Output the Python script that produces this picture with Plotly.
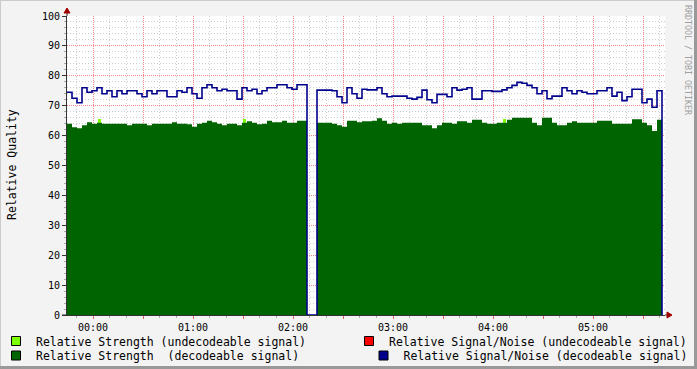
import plotly.graph_objects as go
import pandas as pd

# ---------------- data ----------------
START = pd.Timestamp("2024-01-01 23:44:24")
STEP = pd.Timedelta(minutes=3)
DAY0 = pd.Timestamp("2024-01-02 00:00:00")

snr_seg1 = [74.5, 72.5, 71, 76, 74.5, 75, 76, 74, 75, 73, 75, 74, 75, 75, 74, 73, 75, 74, 75, 75,
            73, 73, 75, 74.5, 76, 74, 72.5, 76, 77, 76,
            75, 75.5, 75, 75, 72.2, 76, 75, 75.5, 74, 75, 76, 76, 77, 77, 76, 75.5, 77, 77]
snr_seg2 = [75.2, 75.2, 75.2, 75, 73, 71, 76, 74, 72.5,
            75.5, 75.3, 75.3, 76, 74, 73, 73.2, 73.2, 73.2, 72.5, 72.2, 72.8, 75.2, 72, 71, 73.8,
            73.8, 73, 76, 75.2, 75.5, 76, 72.2, 72.2, 75, 75, 74.8, 74.8, 75.3, 76,
            76.8, 77.8, 77.5, 76.8, 76, 74, 75, 72.3, 73.2, 73.2, 76, 75, 74, 75, 74.5, 74, 74,
            75, 75, 76, 73.2, 74.5, 71.7, 73, 75.5, 75.5, 71, 72.2, 69.5, 75]
strength_seg1 = [64, 62.8, 62.5, 63.5, 64.5, 64, 64.3, 64, 64, 64, 64, 64, 63.5, 64, 64, 64, 63.5,
                 64, 64, 64, 64, 64.5, 64, 64, 63.8, 63, 64, 64.3, 65, 64.5,
                 64, 63.5, 64, 64, 63.5, 64.3, 64.8, 64.3, 63.8, 64, 65, 64.5, 64.5, 65, 64.3, 64.3, 65, 65]
strength_seg2 = [64.3, 64.3, 64.3, 64, 63.5, 63, 65, 65, 64.5,
                 64.8, 64.8, 65, 65.8, 65, 64, 64.3, 64, 64.3, 64.3, 64.3, 64.3, 63.5, 63.5, 62.5,
                 63.5, 64.3, 64.3, 64, 64.8, 64.8, 64.3, 65.3, 65.3, 64.3, 64, 64, 64.3, 64.3, 65.3,
                 66, 66, 66, 66, 64.3, 63.5, 66, 66, 64.3, 63.5, 63.5, 64.3, 64.8, 64.3, 64.3, 64.3,
                 64.3, 65, 65, 65, 64, 64, 64, 64, 65.5, 65.5, 64.3, 63.5, 61.5, 65.3]
gap_values = [0, 0]
end_values = [0]

snr_decodeable = snr_seg1 + gap_values + snr_seg2 + end_values
strength_decodeable = strength_seg1 + gap_values + strength_seg2 + end_values

# sparse undecodeable strength samples (index, value)
strength_undec_idx = [6, 35, 87]
strength_undec_val = [65.6, 65.4, 65.6]

times = [START + i * STEP for i in range(len(snr_decodeable))]
undec_times = [START + i * STEP + pd.Timedelta(minutes=1.5) for i in strength_undec_idx]

hour_labels = ["00:00", "01:00", "02:00", "03:00", "04:00", "05:00"]

legend_names = ["Relative Strength (undecodeable signal)",
                "Relative Strength \u00a0(decodeable signal)",
                "Relative Signal/Noise (undecodeable signal)",
                "Relative Signal/Noise (decodeable signal)"]

# ---------------- styling ----------------
C_LIGHT = "#7CFF00"
C_DARK = "#006400"
C_RED = "#FF0000"
C_BLUE = "#00008C"
GRID = "#CDCDCD"
MGRID = "#F28A8A"
DASH_MINOR = "1px,2px"
DASH_MAJOR = "1px,1px"
FONT = "DejaVu Sans Mono"

W, H = 697, 369
L, R, T, B = 67, 32, 16, 54
PW, PH = W - L - R, H - T - B


def xp(px):
    return (px - L) / PW


def yp(py):
    return (T + PH - py) / PH


fig = go.Figure()

fig.add_trace(go.Bar(x=undec_times, y=strength_undec_val, width=120000,
                     marker=dict(color=C_LIGHT, line=dict(width=0)), showlegend=False,
                     hoverinfo="skip"))
fig.add_trace(go.Scatter(x=times, y=strength_decodeable, mode="lines", line=dict(width=0, shape="hv"),
                         fill="tozeroy", fillcolor=C_DARK, showlegend=False))
fig.add_trace(go.Scatter(x=times, y=snr_decodeable, mode="lines",
                         line=dict(width=1.6, color=C_BLUE, shape="hv"), showlegend=False))

legend_specs = [(legend_names[0], C_LIGHT, "legend"),
                (legend_names[1], C_DARK, "legend2"),
                (legend_names[2], C_RED, "legend3"),
                (legend_names[3], C_BLUE, "legend4")]
for name, col, lg in legend_specs:
    fig.add_trace(go.Scatter(x=[None], y=[None], mode="markers", name=name, legend=lg,
                             marker=dict(symbol="square", size=9, color=col,
                                         line=dict(color="black", width=1))))

# major x ticks every 30 min (labels on the hour), minor grid every 10 min
tick_vals = [DAY0 + pd.Timedelta(minutes=30 * k) for k in range(-1, 12)]
tick_text = []
for k in range(-1, 12):
    if k >= 0 and k % 2 == 0:
        tick_text.append(hour_labels[k // 2])
    else:
        tick_text.append("")
minor_x = [DAY0 + pd.Timedelta(minutes=10 * k) for k in range(-2, 36) if k % 3 != 0]
minor_y = [v for v in range(0, 101, 2) if v % 10 != 0]

x_left = DAY0 - pd.Timedelta(minutes=15.6)
x_right = DAY0 + pd.Timedelta(minutes=343.2)

leg_font = dict(family=FONT, size=11.5, color="#000")


def leg(px_sym, py_center):
    return dict(x=xp(px_sym - 20), y=yp(py_center - 14.5), xanchor="left", yanchor="top",
                bgcolor="rgba(0,0,0,0)", borderwidth=0, font=leg_font, itemsizing="trace")


fig.update_layout(
    width=W, height=H,
    margin=dict(l=L, r=R, t=T, b=B, pad=0, autoexpand=False),
    paper_bgcolor="#F3F3F3", plot_bgcolor="#FFFFFF",
    font=dict(family=FONT, size=10, color="#000"),
    bargap=0,
    legend=leg(16, 341),
    legend2=leg(16, 355.5),
    legend3=leg(369, 341),
    legend4=leg(383.5, 355.5),
    xaxis=dict(type="date", range=[x_left, x_right], tickmode="array", tickvals=tick_vals,
               ticktext=tick_text, showgrid=True, gridcolor=MGRID, griddash=DASH_MAJOR, gridwidth=1,
               ticks="outside", ticklen=3, tickcolor="#E06060", showline=True, linecolor="#333",
               zeroline=False, tickfont=dict(family=FONT, size=10, color="#000"),
               minor=dict(tickmode="array", tickvals=minor_x, showgrid=True,
                          gridcolor=GRID, griddash=DASH_MINOR, ticks="outside", ticklen=2,
                          tickcolor="#AAAAAA"),
               fixedrange=True),
    yaxis=dict(range=[0, 100], tickmode="linear", dtick=10, tick0=0, showgrid=True,
               gridcolor=MGRID, griddash=DASH_MAJOR, gridwidth=1,
               ticks="outside", ticklen=4, tickcolor="#333", showline=True, linecolor="#333",
               zeroline=False, tickfont=dict(family=FONT, size=10, color="#000"),
               minor=dict(tickmode="array", tickvals=minor_y, showgrid=True, gridcolor=GRID,
                          griddash=DASH_MINOR, ticks="outside", ticklen=2, tickcolor="#AAAAAA"),
               fixedrange=True),
    annotations=[
        dict(text="Relative Quality", xref="paper", yref="paper", x=xp(12), y=yp(165),
             xanchor="center", yanchor="middle", textangle=-90, showarrow=False,
             font=dict(family=FONT, size=11.5, color="#000")),
        dict(text="RRDTOOL / TOBI OETIKER", xref="paper", yref="paper", x=xp(688), y=yp(60),
             xanchor="center", yanchor="middle", textangle=90, showarrow=False,
             font=dict(family=FONT, size=8.3, color="#A0A0A0")),
    ],
    shapes=[
        # arrows
        dict(type="line", xref="paper", yref="paper", x0=xp(67), x1=xp(67), y0=yp(16), y1=yp(11),
             line=dict(color="#333", width=1)),
        dict(type="path", xref="paper", yref="paper",
             path=f"M {xp(64)} {yp(13)} L {xp(70)} {yp(13)} L {xp(67)} {yp(8)} Z",
             fillcolor="#A00000", line=dict(color="#A00000", width=1)),
        dict(type="line", xref="paper", yref="paper", x0=xp(62), x1=xp(67), y0=yp(315), y1=yp(315),
             line=dict(color="#333", width=1)),
        dict(type="line", xref="paper", yref="paper", x0=xp(665), x1=xp(668), y0=yp(315), y1=yp(315),
             line=dict(color="#333", width=1)),
        dict(type="path", xref="paper", yref="paper",
             path=f"M {xp(667)} {yp(312)} L {xp(667)} {yp(318)} L {xp(672)} {yp(315)} Z",
             fillcolor="#A00000", line=dict(color="#A00000", width=1)),
        # frame shading
        dict(type="line", xref="paper", yref="paper", x0=xp(0), x1=xp(697), y0=yp(0.5), y1=yp(0.5),
             line=dict(color="#CBCBCB", width=1)),
        dict(type="line", xref="paper", yref="paper", x0=xp(0.5), x1=xp(0.5), y0=yp(0), y1=yp(369),
             line=dict(color="#CBCBCB", width=1)),
        dict(type="line", xref="paper", yref="paper", x0=xp(0), x1=xp(697), y0=yp(367.5), y1=yp(367.5),
             line=dict(color="#999999", width=3)),
        dict(type="line", xref="paper", yref="paper", x0=xp(695.5), x1=xp(695.5), y0=yp(0), y1=yp(369),
             line=dict(color="#999999", width=3)),
    ],
)

fig.write_html("out.html")
